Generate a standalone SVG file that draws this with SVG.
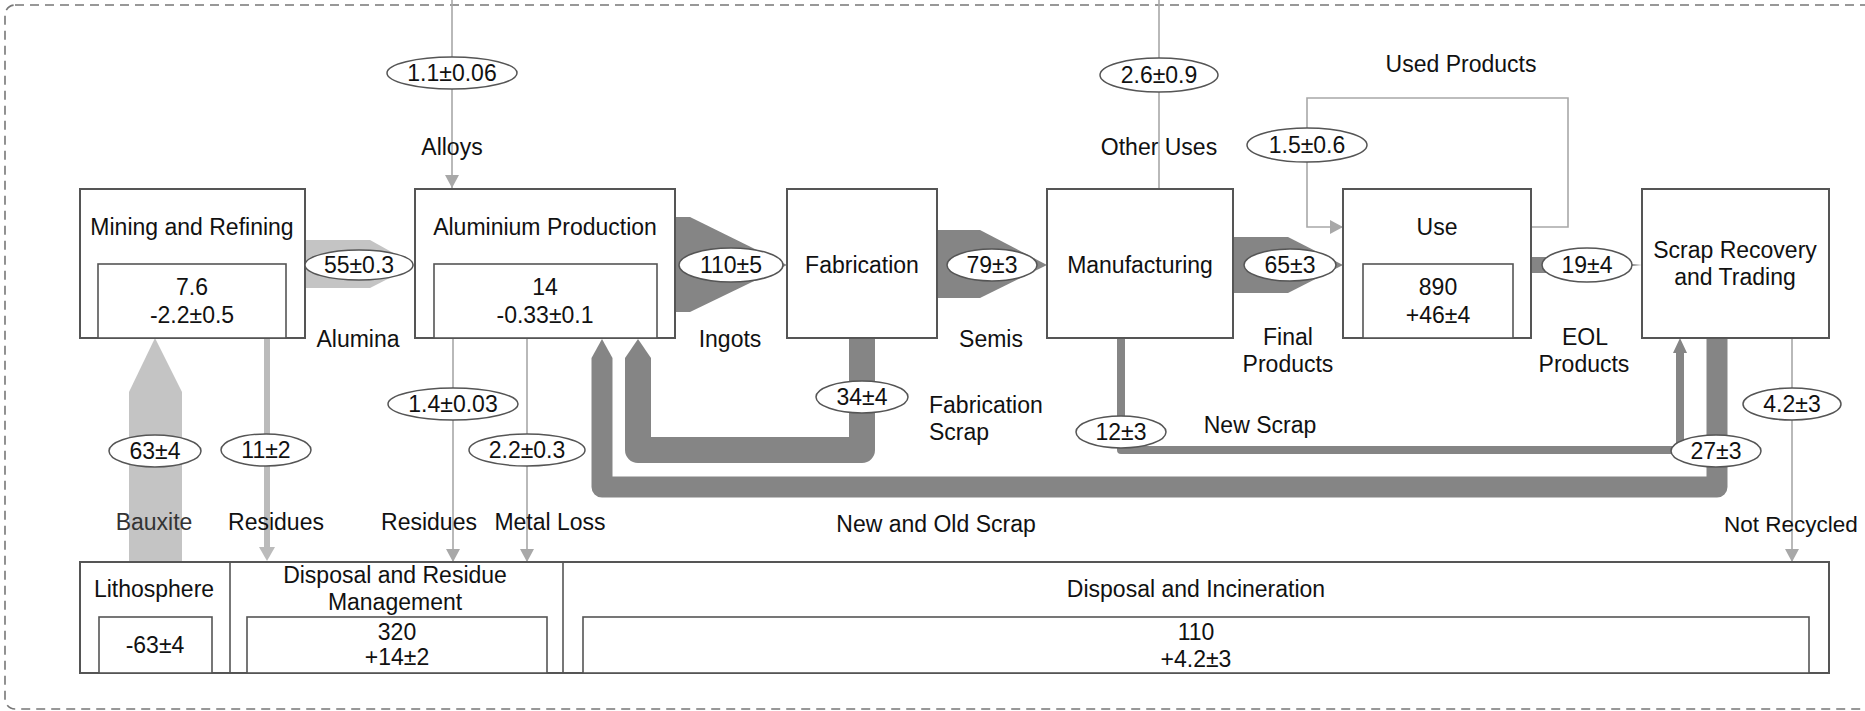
<svg xmlns="http://www.w3.org/2000/svg" width="1865" height="711" viewBox="0 0 1865 711">
<defs>
<style>
text{font-family:"Liberation Sans",Arial,sans-serif;font-size:23px;fill:#111;}
.c{text-anchor:middle;}
.s{text-anchor:start;}
.box{fill:#fff;stroke:#555;stroke-width:2;}
.inner{fill:#fff;stroke:#555;stroke-width:1.6;}
.lab{fill:#fff;stroke:#555;stroke-width:1.5;}
.thin{fill:none;stroke:#a8a8a8;stroke-width:1.6;}
.dark{fill:#858585;}
.light{fill:#c4c4c4;}
.band{fill:none;stroke:#858585;stroke-linejoin:round;}
</style>
<marker id="arrLight" markerUnits="userSpaceOnUse" markerWidth="14" markerHeight="14" refX="13" refY="7" orient="auto">
<path d="M0,0 L13,7 L0,14 z" fill="#a8a8a8"/>
</marker>
</defs>
<rect x="5" y="5" width="1890" height="704" rx="10" fill="none" stroke="#777" stroke-width="1.6" stroke-dasharray="9 6"/>
<g id="connectors">
<path class="thin" d="M452,0 V188" marker-end="url(#arrLight)"/>
<path class="thin" d="M1159,0 V189"/>
<path class="thin" d="M1531,227 H1568 V98 H1307 V227 H1343" marker-end="url(#arrLight)"/>
<polygon class="light" points="305,240 370,240 415,265 370,288 305,288"/>
<polygon class="dark" points="675,217 690,217 787,265 690,312 675,312"/>
<polygon class="dark" points="937,230 980,230 1047,265 980,298 937,298"/>
<polygon class="dark" points="1233,237 1288,237 1343,265 1288,293 1233,293"/>
<polygon class="dark" points="1531,257 1560,257 1642,265 1560,273 1531,273"/>
<polygon class="light" points="129,562 129,392 155,338 182,392 182,562"/>
<path d="M267,338 V548" fill="none" stroke="#bbb" stroke-width="6"/>
<polygon points="259,547 275,547 267,561" fill="#bbb"/>
<path class="thin" d="M453,338 V562" marker-end="url(#arrLight)"/>
<path class="thin" d="M527,338 V562" marker-end="url(#arrLight)"/>
<path class="thin" d="M1792,338 V562" marker-end="url(#arrLight)"/>
<path class="band" stroke-width="26" d="M862,338 V450 H638 V358"/>
<polygon class="dark" points="625,358 638,339 651,358"/>
<path class="band" stroke-width="21" d="M1717,338 V487 H602 V358"/>
<polygon class="dark" points="591.5,358 602,339 612.5,358"/>
<path class="band" stroke-width="8" d="M1121,338 V450 H1680 V352"/>
<polygon class="dark" points="1673,353 1680,338 1687,353"/>
</g>
<g id="n-mining"><rect class="box" x="80" y="189" width="225" height="149"/><rect class="inner" x="98" y="264" width="188" height="74"/><text class="c" x="192" y="235">Mining and Refining</text><text class="c" x="192" y="295">7.6</text><text class="c" x="192" y="323">-2.2±0.5</text></g>
<g id="n-aluminium"><rect class="box" x="415" y="189" width="260" height="149"/><rect class="inner" x="434" y="264" width="223" height="74"/><text class="c" x="545" y="235">Aluminium Production</text><text class="c" x="545" y="295">14</text><text class="c" x="545" y="323">-0.33±0.1</text></g>
<g id="n-fabrication"><rect class="box" x="787" y="189" width="150" height="149"/><text class="c" x="862" y="273">Fabrication</text></g>
<g id="n-manufacturing"><rect class="box" x="1047" y="189" width="186" height="149"/><text class="c" x="1140" y="273">Manufacturing</text></g>
<g id="n-use"><rect class="box" x="1343" y="189" width="188" height="149"/><rect class="inner" x="1363" y="264" width="150" height="74"/><text class="c" x="1437" y="235">Use</text><text class="c" x="1438" y="295">890</text><text class="c" x="1438" y="323">+46±4</text></g>
<g id="n-scrap"><rect class="box" x="1642" y="189" width="187" height="149"/><text class="c" x="1735" y="258">Scrap Recovery</text><text class="c" x="1735" y="285">and Trading</text></g>
<g id="n-bottom">
<rect class="box" x="80" y="562" width="1749" height="111"/>
<line x1="230" y1="562" x2="230" y2="673" stroke="#555" stroke-width="1.6"/>
<line x1="563" y1="562" x2="563" y2="673" stroke="#555" stroke-width="1.6"/>
<rect class="inner" x="99" y="617" width="113" height="56"/>
<rect class="inner" x="247" y="617" width="300" height="56"/>
<rect class="inner" x="583" y="617" width="1226" height="56"/>
</g>
<g id="n-lithosphere"><text class="c" x="154" y="597">Lithosphere</text><text class="c" x="155" y="653">-63±4</text></g>
<g id="n-residue"><text class="c" x="395" y="583">Disposal and Residue</text><text class="c" x="395" y="610">Management</text><text class="c" x="397" y="640">320</text><text class="c" x="397" y="665">+14±2</text></g>
<g id="n-incineration"><text class="c" x="1196" y="597">Disposal and Incineration</text><text class="c" x="1196" y="640">110</text><text class="c" x="1196" y="667">+4.2±3</text></g>
<g id="flow-values">
<ellipse class="lab" cx="452" cy="73" rx="65" ry="16"/><text class="c" x="452" y="81">1.1±0.06</text>
<ellipse class="lab" cx="1159" cy="75" rx="59" ry="17"/><text class="c" x="1159" y="83">2.6±0.9</text>
<ellipse class="lab" cx="1307" cy="145" rx="60" ry="17"/><text class="c" x="1307" y="153">1.5±0.6</text>
<ellipse class="lab" cx="359" cy="265" rx="54" ry="15"/><text class="c" x="359" y="273">55±0.3</text>
<ellipse class="lab" cx="731" cy="265" rx="52" ry="17"/><text class="c" x="731" y="273">110±5</text>
<ellipse class="lab" cx="992" cy="265" rx="45" ry="16"/><text class="c" x="992" y="273">79±3</text>
<ellipse class="lab" cx="1290" cy="265" rx="46" ry="16"/><text class="c" x="1290" y="273">65±3</text>
<ellipse class="lab" cx="1587" cy="265" rx="45" ry="17"/><text class="c" x="1587" y="273">19±4</text>
<ellipse class="lab" cx="862" cy="397" rx="46" ry="16"/><text class="c" x="862" y="405">34±4</text>
<ellipse class="lab" cx="1121" cy="432" rx="45" ry="16"/><text class="c" x="1121" y="440">12±3</text>
<ellipse class="lab" cx="1716" cy="451" rx="45" ry="16"/><text class="c" x="1716" y="459">27±3</text>
<ellipse class="lab" cx="1792" cy="404" rx="49" ry="16"/><text class="c" x="1792" y="412">4.2±3</text>
<ellipse class="lab" cx="453" cy="404" rx="65" ry="16"/><text class="c" x="453" y="412">1.4±0.03</text>
<ellipse class="lab" cx="527" cy="450" rx="58" ry="16"/><text class="c" x="527" y="458">2.2±0.3</text>
<ellipse class="lab" cx="155" cy="451" rx="46" ry="16"/><text class="c" x="155" y="459">63±4</text>
<ellipse class="lab" cx="266" cy="450" rx="45" ry="16"/><text class="c" x="266" y="458">11±2</text>
</g>
<g id="flow-names">
<text class="c" x="452" y="155">Alloys</text>
<text class="c" x="1159" y="155">Other Uses</text>
<text class="c" x="1461" y="72">Used Products</text>
<text class="c" x="358" y="347">Alumina</text>
<text class="c" x="730" y="347">Ingots</text>
<text class="c" x="991" y="347">Semis</text>
<text class="c" x="1288" y="345">Final</text>
<text class="c" x="1288" y="372">Products</text>
<text class="c" x="1585" y="345">EOL</text>
<text class="c" x="1584" y="372">Products</text>
<text class="s" x="929" y="413">Fabrication</text>
<text class="s" x="929" y="440">Scrap</text>
<text class="c" x="1260" y="433">New Scrap</text>
<text class="c" x="154" y="530" style="fill:#333">Bauxite</text>
<text class="c" x="276" y="530">Residues</text>
<text class="c" x="429" y="530">Residues</text>
<text class="c" x="550" y="530">Metal Loss</text>
<text class="c" x="936" y="532">New and Old Scrap</text>
<text class="s" x="1724" y="532" style="font-size:22.5px">Not Recycled</text>
</g>
</svg>
